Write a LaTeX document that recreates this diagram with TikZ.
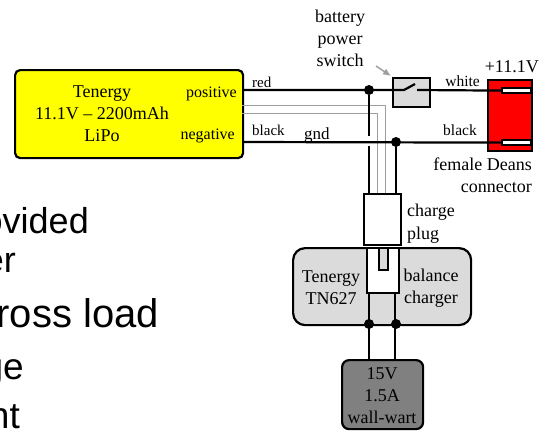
\documentclass[tikz,border=0pt]{standalone}
\usepackage{fontspec}
\usetikzlibrary{arrows.meta}
\setmainfont{Liberation Serif}
\newfontfamily\bigsans{Liberation Sans}
\definecolor{lightbox}{gray}{0.86}
\definecolor{darkbox}{gray}{0.5}
\definecolor{grayline}{gray}{0.62}
\definecolor{battyellow}{RGB}{255,255,0}
\definecolor{deansred}{RGB}{255,0,0}
\tikzset{
  wire/.style={line width=2.2pt,black},
  thinwire/.style={line width=1pt,grayline},
  box/.style={draw=black,line width=2.2pt,inner sep=0pt,minimum width=0pt,minimum height=0pt},
  dot/.style={circle,fill=black,inner sep=0pt,minimum size=10pt},
  lab/.style={inner sep=0pt,font=\fontsize{18}{22}\selectfont,align=center},
  smalllab/.style={inner sep=0pt,font=\fontsize{15.5}{18}\selectfont},
  bigtext/.style={inner sep=0pt,anchor=base east,font=\bigsans\fontsize{#1}{#1}\selectfont},
}
\begin{document}
\begin{tikzpicture}[x=1pt,y=-1pt]
\useasboundingbox (0,0) rectangle (540,439);
\clip (0,0) rectangle (540,439);
% left cropped text
\node[bigtext=36] (t1) at (89,233) {ovided};
\node[bigtext=36] (t2) at (16,272) {er};
\node[bigtext=40] (t3) at (159,327) {ross load};
\node[bigtext=37] (t4) at (24,379) {ge};
\node[bigtext=37] (t5) at (20,428) {nt};
% shapes
\node[box,fill=battyellow,rounded corners=5pt,anchor=north west,minimum width=228pt,minimum height=88pt] (batt) at (14,69) {};
\node[box,fill=lightbox,anchor=north west,minimum width=37pt,minimum height=29pt] (sw) at (392,77) {};
\node[box,fill=deansred,anchor=north west,minimum width=44pt,minimum height=71pt] (deans) at (487,79) {};
\node[box,fill=white,anchor=north west,minimum width=29pt,minimum height=5pt] (slot1) at (501,87) {};
\node[box,fill=white,anchor=north west,minimum width=29pt,minimum height=5pt] (slot2) at (501,139) {};
\node[box,fill=lightbox,rounded corners=12pt,anchor=north west,minimum width=178pt,minimum height=77pt] (charger) at (292,247) {};
\node[box,fill=white,anchor=north west,minimum width=37pt,minimum height=51pt] (plug) at (363,193) {};
\node[box,fill=white,anchor=north west,minimum width=32pt,minimum height=45pt] (socket) at (366,247) {};
\node[box,fill=lightbox,anchor=north west,minimum width=9pt,minimum height=22pt] (notch) at (378,247) {};
\node[box,fill=darkbox,rounded corners=7pt,anchor=north west,minimum width=81pt,minimum height=69pt] (wart) at (341,359) {};
% named points
\coordinate (bpos) at (242,90);
\coordinate (bneg) at (242,142);
\node[dot] (j1) at (369,90) {};
\node[dot] (j2) at (396,142) {};
\node[dot] (j3) at (369,324) {};
\node[dot] (j4) at (396,324) {};
\coordinate (swl) at (404,90);
\coordinate (swt) at (415,84);
\coordinate (swr) at (417,90);
\coordinate (gapa) at (369,136);
\coordinate (gapb) at (369,146);
\coordinate (p1) at (369,193);
\coordinate (p2) at (396,193);
\coordinate (s1) at (369,292);
\coordinate (s2) at (395,292);
\coordinate (w1) at (369,359);
\coordinate (w2) at (395,359);
\coordinate (g1) at (242,105);
\coordinate (g2) at (385,105);
\coordinate (g3) at (385,193);
\coordinate (g4) at (242,113);
\coordinate (g5) at (377,113);
\coordinate (g6) at (377,193);
\coordinate (a1) at (376,66);
\coordinate (a2) at (391,76);
% connectors
\draw[thinwire] (g1) -- (g2) -- (g3);
\draw[thinwire] (g4) -- (g5) -- (g6);
\draw[wire] (bpos) -- (swl) -- (swt);
\draw[wire] (swr) -- (slot1.west);
\draw[wire] (bneg) -- (slot2.west);
\draw[wire] (j1) -- (gapa);
\draw[wire] (gapb) -- (p1);
\draw[wire] (j2) -- (p2);
\draw[wire] (s1) -- (w1);
\draw[wire] (s2) -- (w2);
\draw[grayline,line width=1.5pt,-{Latex[length=8pt,width=7pt]}] (a1) -- (a2);
% labels
\node[lab,anchor=center] (l1) at (102,114) {Tenergy\\11.1V -- 2200mAh\\LiPo};
\node[smalllab,anchor=base east,font=\fontsize{16}{18}\selectfont] (l2) at (237,97) {positive};
\node[smalllab,anchor=base east,font=\fontsize{16}{18}\selectfont] (l3) at (235,139) {negative};
\node[smalllab,anchor=base west,font=\fontsize{15}{18}\selectfont] (l4) at (252,87) {red};
\node[smalllab,anchor=base west,font=\fontsize{15}{18}\selectfont] (l5) at (252,135) {black};
\node[smalllab,anchor=base west,font=\fontsize{17}{18}\selectfont] (l6) at (304,139) {gnd};
\node[smalllab,anchor=base east] (l7) at (480,86) {white};
\node[smalllab,anchor=base east] (l8) at (477,135) {black};
\node[lab,anchor=base east] (l9) at (539,72) {+11.1V};
\node[lab,anchor=base east] (l10) at (532,170) {female Deans};
\node[lab,anchor=base east] (l11) at (532,192) {connector};
\node[lab,anchor=center] (l12) at (340,38) {battery\\power\\switch};
\node[lab,anchor=base west] (l13) at (407,216) {charge};
\node[lab,anchor=base west] (l14) at (407,239) {plug};
\node[lab,anchor=center] (l15) at (331,288) {Tenergy\\TN627};
\node[lab,anchor=center] (l16) at (431,288) {balance\\charger};
\node[lab,anchor=center] (l17) at (382,396) {15V\\1.5A\\wall-wart};
\end{tikzpicture}
\end{document}
